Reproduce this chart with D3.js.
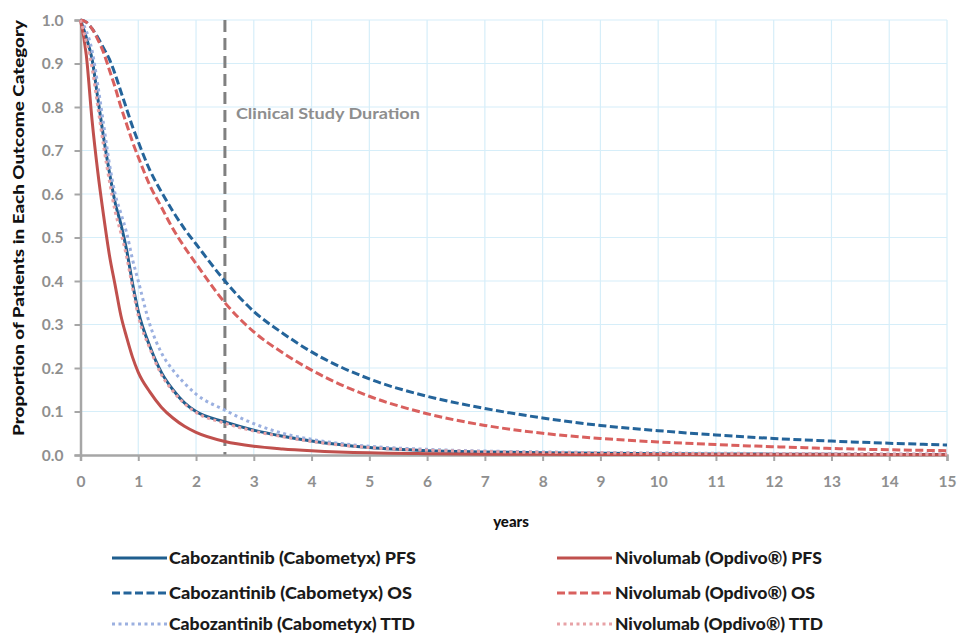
<!DOCTYPE html>
<html>
<head>
<meta charset="utf-8">
<script src="https://cdn.jsdelivr.net/npm/d3@7/dist/d3.min.js"></script>
<style>
  html, body { margin: 0; padding: 0; background: #fff; }
  svg { display: block; font-family: Lato, "Open Sans", sans-serif; }
</style>
</head>
<body>
<svg id="chart" width="960" height="636"></svg>
<script>
// ---- data ----
const years = [0,0.1,0.2,0.3,0.4,0.5,0.6,0.7,0.8,0.9,1,1.2,1.4,1.6,1.8,2,2.5,3,3.5,4,5,6,7,8,9,10,11,12,13,14,15];
const caboPFS = [1,0.96,0.91,0.82,0.73,0.65,0.58,0.53,0.47,0.395,0.33,0.25,0.19,0.15,0.12,0.1,0.076,0.057,0.043,0.032,0.017,0.01,0.007,0.005,0.004,0.003,0.0025,0.002,0.0015,0.0012,0.001];
const caboOS  = [1,0.995,0.98,0.96,0.935,0.91,0.875,0.835,0.795,0.755,0.72,0.655,0.605,0.56,0.52,0.485,0.4,0.33,0.28,0.237,0.175,0.135,0.107,0.085,0.068,0.056,0.046,0.038,0.032,0.027,0.023];
const caboTTD = [1,0.975,0.93,0.85,0.76,0.67,0.6,0.555,0.51,0.45,0.4,0.3,0.235,0.195,0.165,0.14,0.103,0.072,0.05,0.036,0.02,0.013,0.009,0.007,0.0055,0.0045,0.004,0.0035,0.003,0.0025,0.002];
const nivoPFS = [1,0.92,0.77,0.65,0.55,0.46,0.39,0.32,0.27,0.225,0.19,0.145,0.11,0.085,0.066,0.052,0.031,0.02,0.014,0.01,0.005,0.003,0.002,0.0015,0.001,0.001,0.0008,0.0007,0.0006,0.0005,0.0005];
const nivoOS  = [1,0.995,0.98,0.955,0.925,0.885,0.845,0.8,0.76,0.72,0.685,0.62,0.57,0.52,0.478,0.44,0.35,0.283,0.235,0.195,0.135,0.095,0.068,0.05,0.038,0.03,0.024,0.019,0.015,0.012,0.01];
const nivoTTD = [1,0.95,0.89,0.8,0.71,0.63,0.56,0.51,0.455,0.385,0.32,0.245,0.185,0.147,0.118,0.098,0.073,0.055,0.042,0.031,0.017,0.011,0.008,0.006,0.005,0.004,0.0035,0.003,0.0025,0.002,0.002];

const seriesNames = ["Cabozantinib (Cabometyx) PFS","Cabozantinib (Cabometyx) OS","Cabozantinib (Cabometyx) TTD",
                     "Nivolumab (Opdivo®) PFS","Nivolumab (Opdivo®) OS","Nivolumab (Opdivo®) TTD"];
const seriesValues = [caboPFS, caboOS, caboTTD, nivoPFS, nivoOS, nivoTTD];
const xTicks = d3.range(0, 16, 1);
const yTicks = d3.range(0, 11, 1).map(d => d / 10);
const studyDuration = 2.5;
const studyLabel = "Clinical Study Duration";
const xTitle = "years";
const yTitle = "Proportion of Patients in Each Outcome Category";

// ---- styles ----
const styles = [
  {color: "#1f5e8e", dash: null},
  {color: "#24649a", dash: "8,3.5"},
  {color: "#9bb0e0", dash: "3,3.5"},
  {color: "#c0504d", dash: null},
  {color: "#d9605e", dash: "8,3.5"},
  {color: "#e8a2a6", dash: "3,3.5"}
];

const svg = d3.select("#chart");
const x = d3.scaleLinear().domain([0, 15]).range([80.5, 947]);
const y = d3.scaleLinear().domain([0, 1]).range([455, 20]);

// grid
const grid = svg.append("g");
grid.selectAll(".vg").data(xTicks.filter(d => d > 0)).enter().append("line")
  .attr("x1", d => x(d)).attr("x2", d => x(d)).attr("y1", y(0)).attr("y2", y(1))
  .attr("stroke", "#d6eef9").attr("stroke-width", 1.2);
grid.selectAll(".hg").data(yTicks.filter(d => d > 0)).enter().append("line")
  .attr("x1", x(0)).attr("x2", x(15)).attr("y1", d => y(d)).attr("y2", d => y(d))
  .attr("stroke", "#d6eef9").attr("stroke-width", 1.2);

// study duration line
svg.append("line")
  .attr("x1", x(studyDuration)).attr("x2", x(studyDuration))
  .attr("y1", y(1)).attr("y2", y(0))
  .attr("stroke", "#808080").attr("stroke-width", 3).attr("stroke-dasharray", "12,6");
svg.append("text").attr("x", x(studyDuration) + 11).attr("y", 119)
  .attr("font-size", 15.5).attr("font-weight", 700).attr("fill", "#8e8e8e")
  .attr("textLength", 184).attr("lengthAdjust", "spacingAndGlyphs")
  .text(studyLabel);

// axes
const xAxis = svg.append("g").attr("transform", `translate(0,${y(0)})`)
  .call(d3.axisBottom(x).tickValues(xTicks).tickSize(6).tickPadding(15).tickFormat(d3.format("d")));
const yAxis = svg.append("g").attr("transform", `translate(${x(0)},0)`)
  .call(d3.axisLeft(y).tickValues(yTicks).tickSize(6).tickPadding(11).tickFormat(d3.format(".1f")));
[xAxis, yAxis].forEach(a => {
  a.select(".domain").attr("stroke", "#a6a6a6").attr("stroke-width", 2.5);
  a.selectAll(".tick line").attr("stroke", "#a6a6a6").attr("stroke-width", 2);
  a.selectAll(".tick text").attr("fill", "#8f8f8f").attr("font-size", 15.5).attr("font-weight", 700)
    .attr("font-family", "Lato, sans-serif");
});
yAxis.selectAll(".tick text").attr("dy", "0.35em");

// lines
const line = d3.line().x((d, i) => x(years[i])).y(d => y(d)).curve(d3.curveMonotoneX);
seriesValues.forEach((vals, k) => {
  svg.append("path").datum(vals)
    .attr("d", line)
    .attr("fill", "none")
    .attr("stroke", styles[k].color)
    .attr("stroke-width", 3)
    .attr("stroke-dasharray", styles[k].dash)
    .attr("stroke-linecap", "butt");
});

// axis titles
svg.append("text").attr("x", 511).attr("y", 527).attr("text-anchor", "middle")
  .attr("font-size", 15).attr("font-weight", 900).attr("fill", "#111").text(xTitle);
svg.append("text").attr("transform", "translate(24,228) rotate(-90)").attr("text-anchor", "middle")
  .attr("font-size", 14.5).attr("font-weight", 900).attr("fill", "#111")
  .attr("textLength", 416).attr("lengthAdjust", "spacingAndGlyphs")
  .text(yTitle);

// legend
const legendCols = [{lx: 112, tx: 169, w: [247, 243, 246]}, {lx: 557, tx: 615, w: [207, 200, 208]}];
const rowY = [558, 593, 624];
seriesNames.forEach((name, k) => {
  const col = legendCols[Math.floor(k / 3)];
  const r = k % 3;
  const g = svg.append("g");
  g.append("line").attr("x1", col.lx).attr("x2", col.lx + 55).attr("y1", rowY[r]).attr("y2", rowY[r])
    .attr("stroke", styles[k].color).attr("stroke-width", 3).attr("stroke-dasharray", styles[k].dash);
  g.append("text").attr("x", col.tx).attr("y", rowY[r]).attr("dy", "0.35em")
    .attr("font-size", 16.5).attr("font-weight", 900).attr("fill", "#1a1a1a")
    .attr("textLength", col.w[r]).attr("lengthAdjust", "spacingAndGlyphs")
    .text(name);
});
</script>
</body>
</html>
